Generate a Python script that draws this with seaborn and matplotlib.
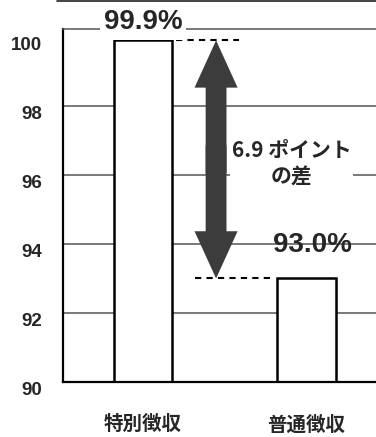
import matplotlib
matplotlib.use("Agg")
import matplotlib.pyplot as plt
from matplotlib.lines import Line2D
import seaborn as sns

# --- Data ----------------------------------------------------------------------
CATEGORIES = ["特別徴収", "普通徴収"]
VALUES = [99.9, 93.0]
VALUE_LABELS = ["99.9%", "93.0%"]
YTICKS = [90, 92, 94, 96, 98, 100]
GRID_LEVELS = [92, 94, 96, 98]
DIFF_LABEL = "6.9 ポイント\nの差"

# --- Style ---------------------------------------------------------------------
sns.set_style("white")
NUM_FONT = ["Liberation Sans Narrow", "Liberation Sans", "DejaVu Sans"]
JP_FONT = ["Noto Sans CJK JP", "DejaVu Sans"]
plt.rcParams["font.family"] = JP_FONT

fig = plt.figure(figsize=(3.76, 4.37), dpi=100)
ax = fig.add_axes([0.1676, 0.1259, 1 - 0.1676, 0.9336 - 0.1259])

# Horizontal grid lines drawn behind the bars
for level in GRID_LEVELS:
    ax.axhline(level, color="#555555", linewidth=1.1, zorder=0.5)

sns.barplot(x=CATEGORIES, y=VALUES, width=0.36, color="white", saturation=1,
            edgecolor="black", linewidth=1.8, ax=ax, zorder=2)

ax.set_ylim(90, 100.23)
ax.set_xlim(-0.489, 1.425)

# --- Axes decorations --------------------------------------------------------
for side in ["left", "bottom"]:
    ax.spines[side].set_color("black")
    ax.spines[side].set_linewidth(1.6)
ax.spines["top"].set_color("#555555")
ax.spines["top"].set_linewidth(1.1)
ax.spines["right"].set_visible(False)

ax.set_yticks(YTICKS)
ax.set_yticklabels([str(t) for t in YTICKS], va="top", fontsize=13.5,
                   fontweight="bold", family=NUM_FONT)
ax.tick_params(axis="y", length=0, pad=15)
ax.tick_params(axis="x", length=0, pad=24)
ax.set_xticks(range(len(CATEGORIES)))
ax.set_xticklabels(CATEGORIES, fontsize=14, fontweight="bold", family=JP_FONT)
ax.set_xlabel("")
ax.set_ylabel("")

# --- Value labels ---------------------------------------------------------------
ax.annotate(VALUE_LABELS[0], xy=(0, VALUES[0]), xytext=(0, 13),
            textcoords="offset points", ha="center", va="center",
            fontsize=20, fontweight="bold", family=NUM_FONT,
            bbox=dict(facecolor="white", edgecolor="none", pad=3),
            annotation_clip=False, zorder=5)
ax.annotate(VALUE_LABELS[1], xy=(1, VALUES[1]), xytext=(4, 24),
            textcoords="offset points", ha="center", va="center",
            fontsize=20, fontweight="bold", family=NUM_FONT, zorder=5)

# --- Difference arrow -----------------------------------------------------------
ARROW_X = 0.447
mid = (VALUES[0] + VALUES[1]) / 2
ax.hlines(VALUES[0], 0.2, ARROW_X + 0.14, colors="black",
          linestyles=(0, (3, 2.5)), linewidth=1.5, zorder=3)
ax.hlines(VALUES[1], ARROW_X - 0.13, ARROW_X + 0.33, colors="black",
          linestyles=(0, (3, 2.5)), linewidth=1.5, zorder=3)
# two overlapping single-headed arrows make one double-headed arrow
for end, start in [(VALUES[0], mid - 0.4), (VALUES[1], mid + 0.4)]:
    ax.annotate("", xy=(ARROW_X, end), xytext=(ARROW_X, start),
                arrowprops=dict(facecolor="#3c3c3c", edgecolor="none",
                                width=15, headwidth=31, headlength=34,
                                shrink=0), zorder=4)

ax.text(0.91, 96.32, DIFF_LABEL, ha="center", va="center", fontsize=15,
        fontweight="bold", linespacing=1.3, family=JP_FONT,
        bbox=dict(facecolor="white", edgecolor="none", pad=1), zorder=5)

# Thin frame line across the top of the scanned figure
fig.add_artist(Line2D([0.152, 1.0], [0.997, 0.997], color="#222222",
                      linewidth=1.2, transform=fig.transFigure))

fig.savefig("out.png", dpi=100)
plt.close(fig)
